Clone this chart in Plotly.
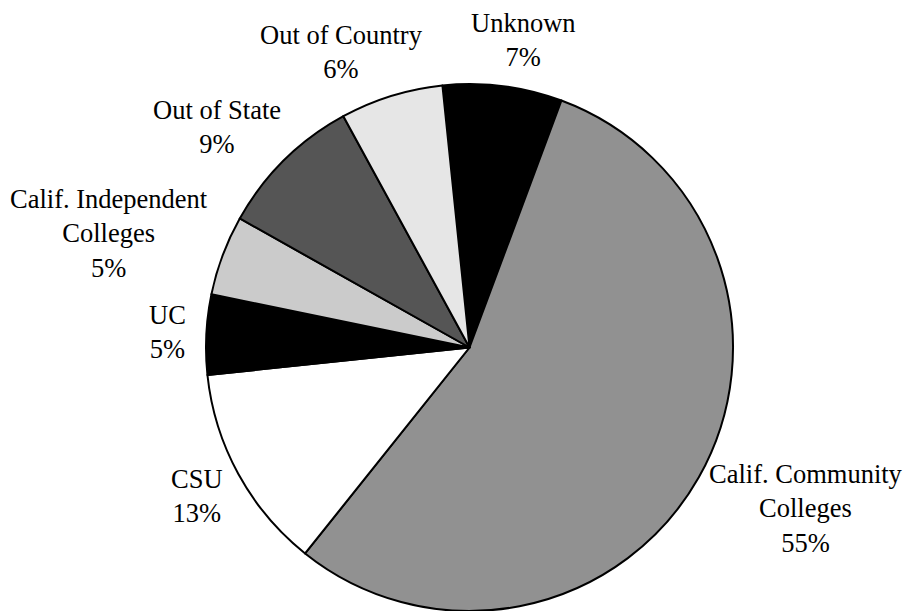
import math
import plotly.graph_objects as go

labels = ["Unknown", "Calif. Community<br>Colleges", "CSU", "UC",
          "Calif. Independent<br>Colleges", "Out of State", "Out of Country"]
values = [7.3, 55.0, 12.6, 4.9, 4.9, 8.9, 6.3]
colors = ["#000000", "#919191", "#ffffff", "#000000", "#cbcbcb", "#555555", "#e6e6e6"]
start_angle = -5.9  # degrees, clockwise from 12 o'clock

# the page body adds an 8px offset, so the figure is 8px smaller
W, H = 904, 603
ML, MR, MT, MB = 198, 179, 76, 0
FS = 26.5
FONT = "Liberation Serif"

# Times advance widths (1/1000 em) for label width estimates
CW = {" ": 250, "%": 833, ".": 250, "C": 667, "I": 333, "O": 722, "S": 556, "U": 722,
      "a": 444, "d": 500, "e": 444, "f": 333, "g": 500, "i": 278, "k": 500, "l": 278,
      "m": 778, "n": 500, "o": 500, "p": 500, "r": 333, "s": 389, "t": 278, "u": 500,
      "w": 722, "y": 500}


def text_w(s):
    return sum(CW.get(ch, 500) for ch in s) / 1000.0 * FS


fig = go.Figure(go.Pie(
    labels=labels,
    values=values,
    sort=False,
    direction="clockwise",
    rotation=start_angle,
    marker=dict(colors=colors, line=dict(color="#000000", width=2)),
    textinfo="none",
    showlegend=False,
    hoverinfo="label+percent",
))

# label placement derived from the pie geometry
pw, ph = W - ML - MR, H - MT - MB
r = min(pw, ph) / 2.0
cx, cy = ML + pw / 2.0, MT + ph / 2.0
gap = 20
total = sum(values)
cum = 0.0
annotations = []
for lab, v in zip(labels, values):
    mid = math.radians(start_angle + (cum + v / 2.0) / total * 360.0)
    cum += v
    ux, uy = math.sin(mid), -math.cos(mid)
    pct = "%d%%" % round(v / total * 100)
    lines = lab.split("<br>") + [pct]
    w = max(text_w(s) for s in lines)
    h = (0.662 + 1.3 * (len(lines) - 1)) * FS
    px = cx + (r + gap) * ux + w / 2.0 * math.copysign(math.sqrt(abs(ux)), ux)
    py = cy + (r + gap) * uy + h / 2.0 * uy
    annotations.append(dict(
        x=(px - ML) / pw, y=1 - (py - MT) / ph, xref="paper", yref="paper",
        xanchor="center", yanchor="middle", align="center", showarrow=False,
        borderpad=0,
        text="<br>".join(lines),
        font=dict(family=FONT, size=FS, color="#000000"),
    ))

fig.update_layout(
    width=W, height=H,
    margin=dict(l=ML, r=MR, t=MT, b=MB),
    paper_bgcolor="#ffffff",
    plot_bgcolor="#ffffff",
    annotations=annotations,
)

fig.write_html("out.html")
